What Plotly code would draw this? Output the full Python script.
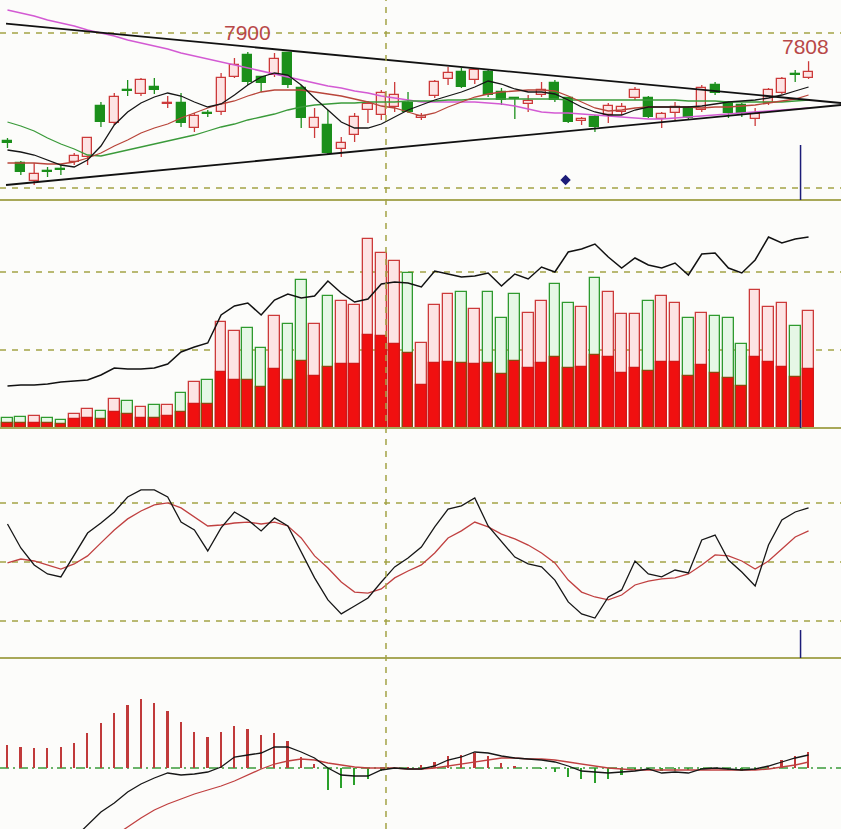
import plotly.graph_objects as go

# ---------------- data ----------------
idx = list(range(61))

opens = [7010, 6790, 6610, 6710, 6730, 6800, 6850, 7360, 7190, 7520,
         7480, 7550, 7380, 7390, 7140, 7290, 7300, 7650, 7870, 7650,
         7670, 7890, 7540, 7140, 7170, 6930, 7070, 7320, 7270, 7350,
         7390, 7240, 7460, 7630, 7700, 7620, 7700, 7500, 7440, 7380,
         7470, 7590, 7440, 7210, 7250, 7270, 7300, 7440, 7440, 7230,
         7290, 7340, 7320, 7570, 7390, 7370, 7230, 7390, 7490, 7680,
         7640]
highs = [7040, 6810, 6790, 6750, 6770, 6890, 7050, 7400, 7490, 7620,
         7640, 7640, 7460, 7490, 7290, 7320, 7690, 7840, 7900, 7660,
         7890, 7895, 7570, 7340, 7320, 7050, 7290, 7410, 7520, 7600,
         7500, 7290, 7620, 7750, 7740, 7740, 7720, 7540, 7450, 7470,
         7600, 7620, 7450, 7250, 7270, 7390, 7390, 7550, 7460, 7300,
         7400, 7360, 7570, 7600, 7410, 7390, 7340, 7540, 7650, 7720,
         7808]
lows = [6940, 6670, 6570, 6650, 6670, 6770, 6770, 7150, 7170, 7460,
        7460, 7480, 7340, 7150, 7100, 7250, 7270, 7640, 7570, 7500,
        7650, 7540, 7140, 7040, 6870, 6850, 7000, 7190, 7220, 7300,
        7290, 7220, 7440, 7570, 7540, 7580, 7450, 7370, 7230, 7300,
        7450, 7400, 7190, 7170, 7100, 7190, 7270, 7420, 7240, 7140,
        7220, 7220, 7300, 7470, 7240, 7250, 7160, 7370, 7480, 7600,
        7630]
closes = [6990, 6700, 6680, 6700, 6720, 6860, 7040, 7200, 7450, 7510,
          7620, 7520, 7390, 7190, 7260, 7280, 7640, 7770, 7600, 7590,
          7830, 7570, 7240, 7240, 6890, 6990, 7250, 7380, 7490, 7470,
          7300, 7260, 7600, 7690, 7550, 7720, 7470, 7420, 7430, 7410,
          7520, 7420, 7200, 7230, 7150, 7360, 7350, 7520, 7250, 7280,
          7350, 7240, 7540, 7490, 7290, 7290, 7280, 7520, 7630, 7670,
          7700]

ma5 = [6920, 6900, 6870, 6820, 6770, 6750, 6820, 6960, 7170, 7300,
       7390, 7450, 7490, 7460, 7400, 7350, 7380, 7470, 7570, 7650,
       7690, 7670, 7570, 7440, 7320, 7200, 7140, 7140, 7180, 7250,
       7320, 7370, 7420, 7460, 7500, 7550, 7610, 7580, 7530, 7500,
       7500, 7480, 7420, 7350, 7300, 7270, 7270, 7320, 7350, 7350,
       7350, 7350, 7360, 7380, 7400, 7410, 7420, 7440, 7470, 7510,
       7550]
ma10 = [6790, 6790, 6790, 6780, 6780, 6800, 6840, 6890, 6960, 7020,
        7090, 7140, 7180, 7240, 7290, 7340, 7380, 7410, 7460, 7500,
        7520, 7520, 7520, 7500, 7480, 7460, 7430, 7400, 7360, 7340,
        7300, 7260, 7290, 7350, 7400, 7450, 7480, 7500, 7510, 7520,
        7520, 7510, 7460, 7400, 7340, 7310, 7320, 7340, 7350, 7350,
        7350, 7350, 7340, 7350, 7350, 7360, 7370, 7390, 7410, 7430,
        7470]
ma20 = [7200, 7160, 7110, 7040, 6980, 6930, 6870, 6860, 6890, 6920,
        6950, 6980, 7010, 7040, 7070, 7110, 7150, 7180, 7220, 7250,
        7280, 7320, 7350, 7370, 7380, 7390, 7390, 7400, 7400, 7400,
        7410, 7410, 7410, 7420, 7420, 7430, 7430, 7430, 7430, 7430,
        7430, 7430, 7420, 7420, 7420, 7420, 7420, 7420, 7420, 7420,
        7420, 7410, 7410, 7410, 7400, 7400, 7400, 7400, 7400, 7410,
        7420]
ma60 = [8320, 8290, 8260, 8220, 8190, 8160, 8120, 8090, 8060, 8020,
        7990, 7960, 7930, 7890, 7860, 7830, 7800, 7770, 7740, 7710,
        7680, 7650, 7620, 7590, 7560, 7540, 7510, 7490, 7460, 7440,
        7420, 7400, 7400, 7400, 7400, 7400, 7390, 7380, 7360, 7330,
        7300, 7290, 7290, 7280, 7270, 7260, 7250, 7240, 7230, 7230,
        7240, 7250, 7260, 7270, 7280, 7290, 7300, 7310, 7320, 7330,
        7340]

trend_x = [-0.11, 62.43]
trend_upper = [8183, 7390]
trend_lower = [6570, 7370]

vol_total = [10000, 11000, 12000, 10000, 8000, 14000, 19000, 17000, 29000, 27000,
             21000, 23000, 23000, 35000, 46000, 48000, 106000, 97000, 100000, 80000,
             112000, 104000, 148000, 104000, 132000, 127000, 123000, 189000, 175000, 167000,
             155000, 85000, 123000, 134000, 136000, 119000, 136000, 110000, 134000, 115000,
             127000, 144000, 125000, 121000, 150000, 136000, 114000, 114000, 127000, 132000,
             125000, 110000, 115000, 112000, 110000, 84000, 138000, 121000, 125000, 102000,
             117000]
vol_inner = [5000, 5000, 5000, 5000, 4000, 9000, 10000, 9000, 16000, 14000,
             10000, 10000, 12000, 16000, 24000, 24000, 56000, 48000, 48000, 41000,
             59000, 48000, 67000, 52000, 61000, 64000, 64000, 93000, 92000, 84000,
             75000, 43000, 65000, 66000, 65000, 64000, 65000, 54000, 67000, 60000,
             65000, 71000, 60000, 61000, 73000, 71000, 55000, 60000, 57000, 66000,
             66000, 52000, 63000, 55000, 50000, 42000, 71000, 66000, 61000, 51000,
             59000]
vol_line = [42000, 43000, 43000, 44000, 46000, 47000, 48000, 53000, 60000, 59000,
            59000, 60000, 64000, 76000, 81000, 85000, 113000, 122000, 125000, 113000,
            128000, 134000, 130000, 132000, 147000, 135000, 126000, 129000, 144000, 146000,
            145000, 141000, 157000, 154000, 151000, 152000, 155000, 142000, 154000, 149000,
            161000, 156000, 176000, 179000, 184000, 171000, 160000, 170000, 163000, 160000,
            165000, 153000, 174000, 175000, 160000, 155000, 168000, 191000, 185000, 189000,
            191000]

k_line = [69.3, 57.1, 48.5, 43.9, 42.4, 53.6, 64.7, 69.8, 75.4, 83.0,
          86.6, 86.6, 83.0, 70.3, 66.3, 55.6, 67.3, 75.4, 71.4, 65.8,
          72.4, 68.3, 55.1, 41.9, 30.7, 23.6, 27.6, 31.7, 39.8, 47.5,
          52.0, 57.6, 67.8, 76.9, 78.5, 82.5, 68.3, 60.2, 52.5, 49.0,
          47.5, 40.8, 29.7, 23.6, 21.5, 32.2, 35.8, 50.5, 43.9, 42.4,
          45.9, 44.4, 61.2, 63.7, 51.0, 44.9, 37.8, 58.6, 71.4, 75.4,
          77.5]
d_line = [49.5, 51.5, 50.5, 48.5, 46.4, 49.0, 53.1, 59.7, 66.3, 71.9,
          75.9, 79.0, 80.0, 77.5, 72.9, 68.3, 68.8, 69.8, 70.3, 69.3,
          70.3, 68.3, 62.2, 53.1, 46.9, 39.8, 34.7, 34.2, 36.3, 41.9,
          45.4, 48.5, 54.6, 62.2, 65.8, 70.3, 67.8, 64.2, 61.7, 58.6,
          54.6, 49.5, 40.8, 34.7, 32.2, 30.7, 33.2, 38.3, 40.3, 41.4,
          41.9, 43.9, 48.5, 53.6, 53.1, 50.5, 46.4, 50.5, 56.6, 62.7,
          65.8]

macd_hist = [11.5, 10.5, 10, 10, 10.5, 12.5, 17.5, 22.5, 27.5, 31.5,
             34.5, 32.5, 28.5, 23, 18, 15.5, 18, 21, 19.5, 16.5,
             17.5, 13.5, 5.5, 2, -11, -10, -8.5, -5.5, -1.5, 0,
             0.5, 1.5, 3, 6, 6.5, 7.5, 6, 2.5, 1, 0,
             -0.5, -2, -4.5, -5.5, -7.5, -5.5, -3.5, -1, -1, -1.5,
             -1.5, -1, -0.5, -0.5, -1, -1.5, -1, 1, 4, 6,
             8]
dif = [-67.5, -61, -54.5, -48, -41.5, -35, -29, -22, -17.5, -12,
       -8, -5, -2.5, -3.5, -3, -2, 0.5, 5.5, 6.5, 7.5,
       10.5, 10.5, 8, 5, 0, -3.5, -4, -4, -1, 0,
       -0.5, -0.5, 1, 4, 5.5, 8, 7.5, 6, 5, 4.5,
       4, 3, 1, -1.5, -2, -2.5, -2, -1.5, -0.5, -2.5,
       -2, -2.5, -0.5, 0, -0.5, -1, -0.5, 1, 3, 5,
       6.5]
dea = [-76, -70, -64.5, -59, -53.5, -48.5, -43.5, -38.5, -34, -29.5,
       -25, -21, -18, -15.5, -13, -11, -9, -6.5, -3.5, -0.5,
       2, 3.5, 4.5, 4, 2.5, 1.5, 0.5, 0, 0, 0,
       -0.5, -0.5, 0, 1, 2, 3, 4, 5, 5, 4.5,
       4.5, 4, 3, 2, 1, 0, -0.5, -1, -1, -1,
       -1, -1, -1, -1, -1, -1, -1, -0.5, 0.5, 1.5,
       3]

label_high = "7900"
label_last = "7808"

# ---------------- styling ----------------
RED = "#cc3a3a"
RED_FILL = "#fde4e4"
GREEN = "#1b8f1b"
GREEN_LIGHT = "#e6f7e6"
OLIVE = "#a3a345"
NAVY = "#1c1c78"

up = [c >= o for o, c in zip(opens, closes)]

fig = go.Figure()

# ---- panel 1: candles ----
body_base = [min(o, c) for o, c in zip(opens, closes)]
body_h = [abs(c - o) for o, c in zip(opens, closes)]
wx_r, wy_r, wx_g, wy_g = [], [], [], []
for i in idx:
    top = max(opens[i], closes[i])
    bot = min(opens[i], closes[i])
    xs = [i, i, None, i, i, None]
    ys = [highs[i], top, None, bot, lows[i], None]
    if up[i]:
        wx_r += xs; wy_r += ys
    else:
        wx_g += xs; wy_g += ys

fig.add_trace(go.Bar(x=idx, y=body_h, base=body_base, width=0.68,
                     marker=dict(color=[RED_FILL if u else GREEN for u in up],
                                 line=dict(color=[RED if u else GREEN for u in up], width=1.3)),
                     xaxis="x", yaxis="y"))
fig.add_trace(go.Scatter(x=wx_r, y=wy_r, mode="lines", line=dict(color=RED, width=1.3),
                         xaxis="x", yaxis="y"))
fig.add_trace(go.Scatter(x=wx_g, y=wy_g, mode="lines", line=dict(color=GREEN, width=1.3),
                         xaxis="x", yaxis="y"))

for arr, col, w in [(ma60, "#d35ad3", 1.5), (ma20, "#3a9a3a", 1.3),
                    (ma10, "#b8453a", 1.3), (ma5, "#161616", 1.3)]:
    fig.add_trace(go.Scatter(x=idx, y=arr, mode="lines", line=dict(color=col, width=w),
                             xaxis="x", yaxis="y"))
for arr in (trend_upper, trend_lower):
    fig.add_trace(go.Scatter(x=trend_x, y=arr, mode="lines", line=dict(color="#111111", width=1.8),
                             xaxis="x", yaxis="y"))
fig.add_trace(go.Scatter(x=[41.8], y=[6620], mode="markers",
                         marker=dict(symbol="diamond", size=8, color=NAVY),
                         xaxis="x", yaxis="y"))

# ---- panel 2: volume ----
fig.add_trace(go.Bar(x=idx, y=vol_total, width=0.8,
                     marker=dict(color=[RED_FILL if u else GREEN_LIGHT for u in up],
                                 line=dict(color=[RED if u else "#2f9a2f" for u in up], width=1.3)),
                     xaxis="x", yaxis="y2"))
fig.add_trace(go.Bar(x=idx, y=vol_inner, width=0.8,
                     marker=dict(color="#f01010",
                                 line=dict(color=["#d01818" if u else "#8a4a10" for u in up], width=1.3)),
                     xaxis="x", yaxis="y2"))
fig.add_trace(go.Scatter(x=idx, y=vol_line, mode="lines", line=dict(color="#111111", width=1.5),
                         xaxis="x", yaxis="y2"))

# ---- panel 3: KD ----
fig.add_trace(go.Scatter(x=idx, y=d_line, mode="lines", line=dict(color="#c04040", width=1.3),
                         xaxis="x", yaxis="y3"))
fig.add_trace(go.Scatter(x=idx, y=k_line, mode="lines", line=dict(color="#161616", width=1.3),
                         xaxis="x", yaxis="y3"))

# ---- panel 4: MACD ----
fig.add_trace(go.Bar(x=idx, y=macd_hist, width=0.13,
                     marker=dict(color=["#c03a3a" if v >= 0 else "#2aa02a" for v in macd_hist],
                                 line=dict(width=0)),
                     xaxis="x", yaxis="y4"))
fig.add_trace(go.Scatter(x=idx, y=dea, mode="lines", line=dict(color="#c04040", width=1.3),
                         xaxis="x", yaxis="y4"))
fig.add_trace(go.Scatter(x=idx, y=dif, mode="lines", line=dict(color="#161616", width=1.3),
                         xaxis="x", yaxis="y4"))

# ---------------- layout ----------------
H = 829.0
def pd(px):
    return (H - px) / H

shapes = []
dash = "6px,6px"
for yref, val in [("y", 8090), ("y", 6540), ("y2", 156000), ("y2", 78000),
                  ("y3", 80), ("y3", 50), ("y3", 20)]:
    shapes.append(dict(type="line", xref="paper", x0=0, x1=1, yref=yref, y0=val, y1=val,
                       line=dict(color=OLIVE, width=1.5, dash=dash), layer="below"))
shapes.append(dict(type="line", xref="paper", x0=0, x1=1, yref="y4", y0=0, y1=0,
                   line=dict(color="#3a9a3a", width=1.5, dash="9px,4px,2px,4px"), layer="below"))
for py in (200, 428, 658):
    shapes.append(dict(type="line", xref="paper", x0=0, x1=1, yref="paper", y0=pd(py), y1=pd(py),
                       line=dict(color="#a8a858", width=2)))
shapes.append(dict(type="line", xref="x", x0=28.35, x1=28.35, yref="paper", y0=0, y1=1,
                   line=dict(color=OLIVE, width=1.5, dash=dash)))
for yref, a, b in [("y", 6970, 6420), ("y2", 28000, 0), ("y3", 15.4, 1.2)]:
    shapes.append(dict(type="line", xref="x", x0=59.4, x1=59.4, yref=yref, y0=a, y1=b,
                       line=dict(color=NAVY, width=1.5)))

annotations = [
    dict(x=18, y=8100, xref="x", yref="y", text=label_high, showarrow=False,
         font=dict(family="Liberation Sans, Arial, sans-serif", size=21, color="#b84848")),
    dict(x=59.8, y=7960, xref="x", yref="y", text=label_last, showarrow=False,
         font=dict(family="Liberation Sans, Arial, sans-serif", size=21, color="#b84848")),
]

ax_common = dict(visible=False, showgrid=False, zeroline=False, fixedrange=True)
fig.update_layout(
    width=841, height=829, margin=dict(l=0, r=0, t=0, b=0),
    paper_bgcolor="#ffffff", plot_bgcolor="#fcfcfa",
    showlegend=False, barmode="overlay", bargap=0,
    xaxis=dict(range=[-0.56, 62.43], anchor="y", **ax_common),
    yaxis=dict(domain=[pd(200), 1], range=[6420, 8420], **ax_common),
    yaxis2=dict(domain=[pd(428), pd(200)], range=[0, 228000], **ax_common),
    yaxis3=dict(domain=[pd(658), pd(428)], range=[1.19, 118.1], **ax_common),
    yaxis4=dict(domain=[0, pd(658)], range=[-30.5, 55], **ax_common),
    shapes=shapes, annotations=annotations,
)

fig.write_html("out.html",
               config={"displayModeBar": False},
               post_script="document.body.style.margin='0';document.body.style.overflow='hidden';")
